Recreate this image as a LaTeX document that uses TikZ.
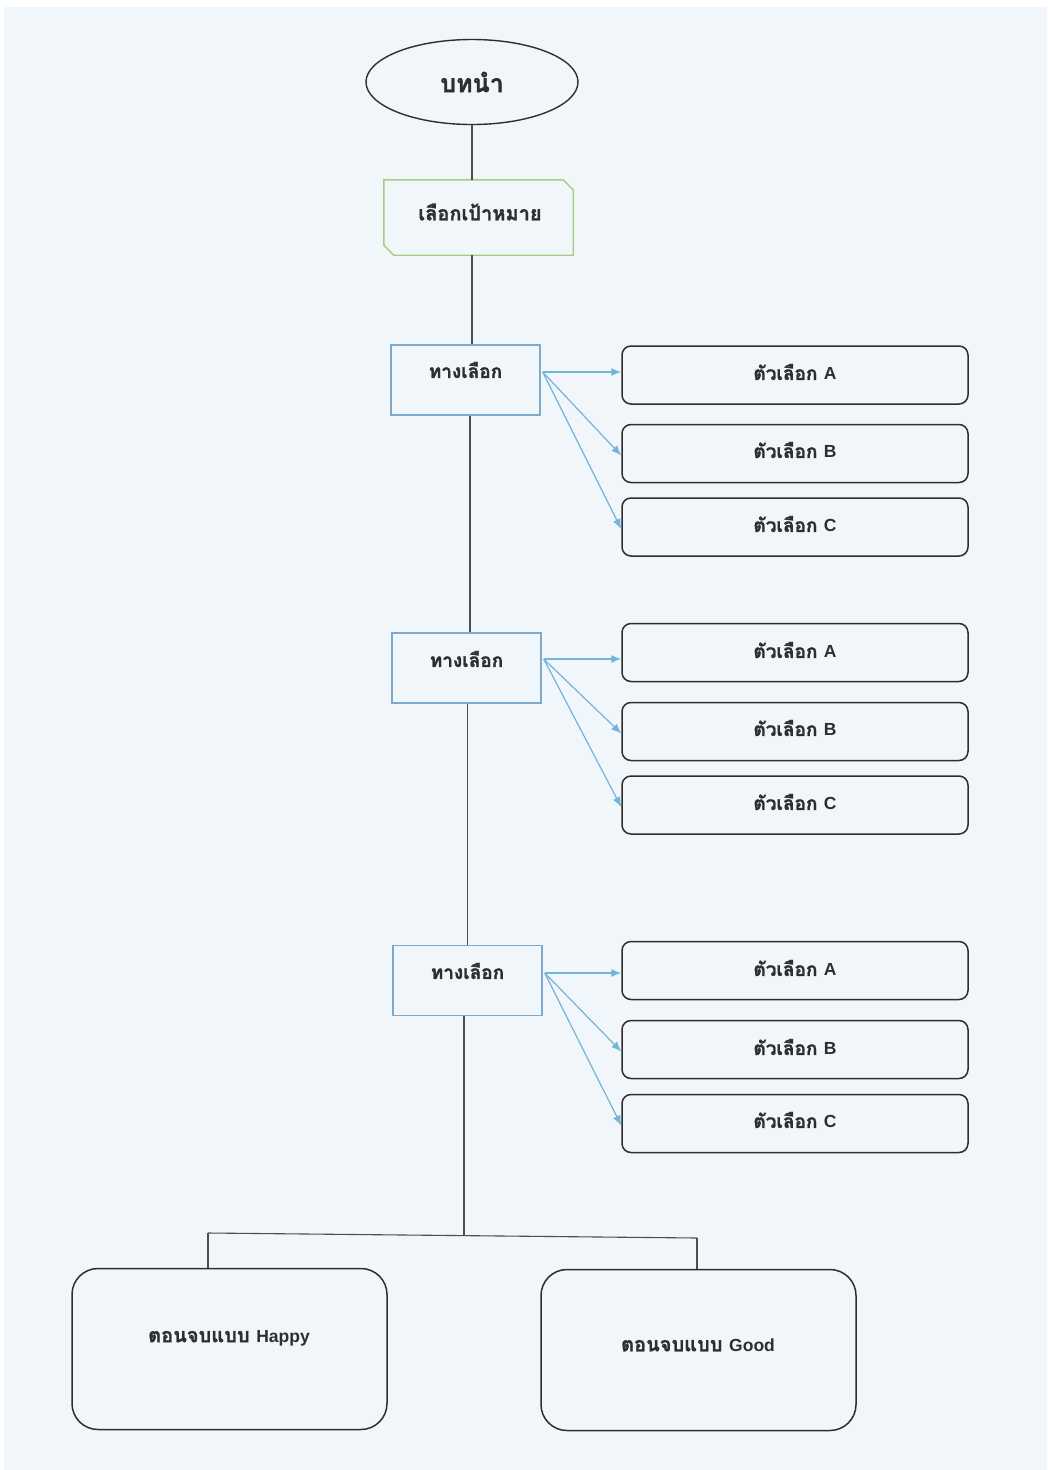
\documentclass[tikz,border=0pt]{standalone}
\usepackage{fontspec}
\setmainfont{Liberation Sans}
\newfontfamily\thaifont[Script=Thai, BoldFeatures={FakeBold=1.2}]{Loma}
\newfontfamily\latinfont{Liberation Sans}
\usetikzlibrary{shapes.geometric,arrows.meta}
\definecolor{paper}{HTML}{F1F6FA}
\definecolor{goalgreen}{HTML}{A3CF7E}
\definecolor{choiceblue}{HTML}{7FAACB}
\definecolor{arrowblue}{HTML}{72B4DA}
\definecolor{ink}{HTML}{2E2E2E}
\newcommand\lat[1]{{\latinfont\bfseries\fontsize{17.5}{21}\selectfont #1}}
\begin{document}
\begin{tikzpicture}[x=1pt,y=-1pt,
  txt/.style={inner sep=0pt, text=ink, font=\thaifont\bfseries\fontsize{19}{22}\selectfont},
  goaltxt/.style={txt, font=\thaifont\bfseries\fontsize{20}{23}\selectfont},
  endtxt/.style={txt, font=\thaifont\bfseries\fontsize{20}{23}\selectfont},
  bigtxt/.style={txt, font=\thaifont\bfseries\fontsize{25}{28}\selectfont},
  startshape/.style={ellipse, draw=ink, line width=1.4pt, minimum width=212pt, minimum height=85pt, inner sep=0pt},
  goalbox/.style={rectangle, draw=none, minimum width=189pt, minimum height=75pt, inner sep=0pt},
  goalline/.style={draw=goalgreen, line width=1.4pt, line join=miter},
  choicebox/.style={rectangle, draw=choiceblue, line width=1.4pt, minimum width=149pt, minimum height=70pt, inner sep=0pt},
  optbox/.style={rectangle, rounded corners=9pt, draw=ink, line width=1.5pt, minimum width=346pt, minimum height=58pt, inner sep=0pt},
  endbox/.style={rectangle, rounded corners=26pt, draw=ink, line width=1.5pt, minimum width=315pt, minimum height=161pt, inner sep=0pt},
  trunk/.style={draw=ink!85, line width=1.1pt},
  pick/.style={draw=arrowblue, line width=1.2pt, -{Latex[length=10pt,width=8pt]}}
]
\useasboundingbox (0,0) rectangle (1047,1470);
\fill[white] (0,0) rectangle (1047,1470);
\fill[paper] (4,7) rectangle (1047,1470);

% start and goal
\node[startshape] (start) at (472,82) {};
\node[bigtxt] (startlbl) at (472,82) {บทนำ};
\node[goalbox] (goal) at (478.5,217.5) {};
% goal outline: snipped top-right and bottom-left corners
\draw[goalline] (goal.north west) -- ([xshift=-10pt]goal.north east) -- ([yshift=-10pt]goal.north east)
  -- (goal.south east) -- ([xshift=10pt]goal.south west) -- ([yshift=10pt]goal.south west) -- cycle;
\node[goaltxt] (goallbl) at (480,212) {เลือกเป้าหมาย};

% three choice points
\node[choicebox] (c1) at (465.5,380) {};
\node[choicebox] (c2) at (466.5,668) {};
\node[choicebox] (c3) at (467.5,980.5) {};
\node[txt] (c1lbl) at (465.5,370) {ทางเลือก};
\node[txt] (c2lbl) at (466.5,659) {ทางเลือก};
\node[txt] (c3lbl) at (467.5,971) {ทางเลือก};

% option boxes
\foreach \s/\ya/\yb/\yc in {1/375/453.5/527, 2/652.5/731.5/805, 3/970.5/1049.5/1123.5}{
  \node[optbox] (o\s a) at (795,\ya) {};
  \node[optbox] (o\s b) at (795,\yb) {};
  \node[optbox] (o\s c) at (795,\yc) {};
}
\node[txt] (o1al) at (795,372) {ตัวเลือก \lat{A}};
\node[txt] (o1bl) at (795,450) {ตัวเลือก \lat{B}};
\node[txt] (o1cl) at (795,524) {ตัวเลือก \lat{C}};
\node[txt] (o2al) at (795,650) {ตัวเลือก \lat{A}};
\node[txt] (o2bl) at (795,728) {ตัวเลือก \lat{B}};
\node[txt] (o2cl) at (795,802) {ตัวเลือก \lat{C}};
\node[txt] (o3al) at (795,968) {ตัวเลือก \lat{A}};
\node[txt] (o3bl) at (795,1047) {ตัวเลือก \lat{B}};
\node[txt] (o3cl) at (795,1120) {ตัวเลือก \lat{C}};

% endings
\node[endbox] (happy) at (229.5,1349) {};
\node[endbox] (good) at (698.5,1350) {};
\node[endtxt] (happylbl) at (229,1338) {ตอนจบแบบ \lat{Happy}};
\node[endtxt] (goodlbl) at (698,1345) {ตอนจบแบบ \lat{Good}};

% main line
\draw[trunk] (start.south) -- (goal.north -| start.south);
\draw[trunk] (goal.south -| start.south) -- (c1.north -| start.south);
\draw[trunk] ([xshift=4.5pt]c1.south) -- ([xshift=3.5pt]c2.north);
\draw[trunk] ([xshift=1pt]c2.south) -- ([xshift=0pt]c3.north);
\coordinate (fork) at (464,1235.5);
\coordinate (forkL) at (208,1233);
\coordinate (forkR) at (697,1238);
\draw[trunk] ([xshift=-3.5pt]c3.south) -- (fork);
\draw[trunk] (forkL) -- (forkR);
\draw[trunk] (forkL) -- (forkL |- happy.north);
\draw[trunk] (forkR) -- (forkR |- good.north);

% option arrows
\foreach \s/\y in {1/372, 2/659, 3/973}{
  \coordinate (src\s) at ([xshift=2pt]c\s.east |- 0,\y);
  \draw[pick] (src\s) -- (o\s a.west |- src\s);
  \draw[pick] (src\s) -- ([yshift=-2pt]o\s b.west);
  \draw[pick] (src\s) -- ([yshift=-2pt]o\s c.west);
}
\end{tikzpicture}
\end{document}
